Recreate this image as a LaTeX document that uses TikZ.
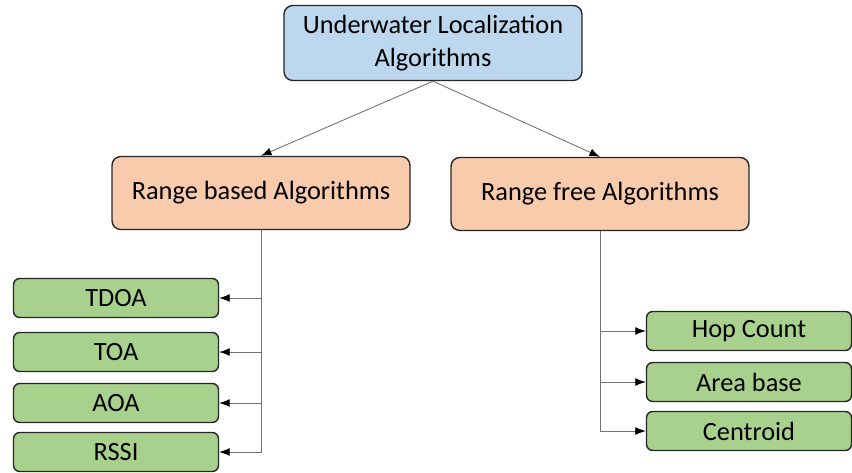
\documentclass[tikz,border=0pt]{standalone}
\usepackage{fontspec}
\setmainfont{Carlito}
\usepackage{tikz}
\usetikzlibrary{arrows.meta, positioning}

\definecolor{topblue}{HTML}{BDD7EE}
\definecolor{midorange}{HTML}{F8CBAD}
\definecolor{leafgreen}{HTML}{A9D18E}

\begin{document}
\begin{tikzpicture}[x=0.02cm, y=-0.02cm, >={Latex[length=6pt, width=4.5pt, color=black]}, font=\fontsize{15}{18.5}\selectfont]
\tikzstyle{rootbox} = [draw=black!85, line width=0.8pt, fill=topblue, rounded corners=5pt, align=center, minimum width=5.96cm, minimum height=1.5cm, inner sep=0pt]
\tikzstyle{groupbox} = [draw=black!85, line width=0.8pt, fill=midorange, rounded corners=5pt, align=center, minimum width=5.96cm, minimum height=1.46cm, inner sep=0pt]
\tikzstyle{leafbox} = [draw=black!85, line width=0.8pt, fill=leafgreen, rounded corners=3.5pt, align=center, minimum width=4.1cm, minimum height=0.78cm, inner sep=0pt]
\tikzstyle{link} = [draw=black!55, line width=0.5pt]

\useasboundingbox (0, 0) rectangle (852, 473);

\node[rootbox] 		at (433, 43) 		(ula) 	{Underwater Localization\\Algorithms};
\node[groupbox] 	at (261, 193) 		(rb) 	{Range based Algorithms};
\node[groupbox] 	at (600, 194) 		(rf) 	{Range free Algorithms};

\node[leafbox] 		at (116, 298) 		(tdoa) 	{TDOA};
\node[leafbox] 		at (116, 352) 		(toa) 	{TOA};
\node[leafbox] 		at (116, 403) 		(aoa) 	{AOA};
\node[leafbox] 		at (116, 452) 		(rssi) 	{RSSI};

\node[leafbox] 		at (749, 331) 		(hop) 	{Hop Count};
\node[leafbox] 		at (749, 382) 		(area) 	{Area base};
\node[leafbox] 		at (749, 431) 		(cent) 	{Centroid};

\path[->]
(ula.south)	edge[link]	(rb.north)
(ula.south)	edge[link]	(rf.north);

\draw[link, ->] (rb.south) |- (tdoa.east);
\draw[link, ->] (rb.south) |- (toa.east);
\draw[link, ->] (rb.south) |- (aoa.east);
\draw[link, ->] (rb.south) |- (rssi.east);

\draw[link, ->] (rf.south) |- (hop.west);
\draw[link, ->] (rf.south) |- (area.west);
\draw[link, ->] (rf.south) |- (cent.west);
\end{tikzpicture}
\end{document}
